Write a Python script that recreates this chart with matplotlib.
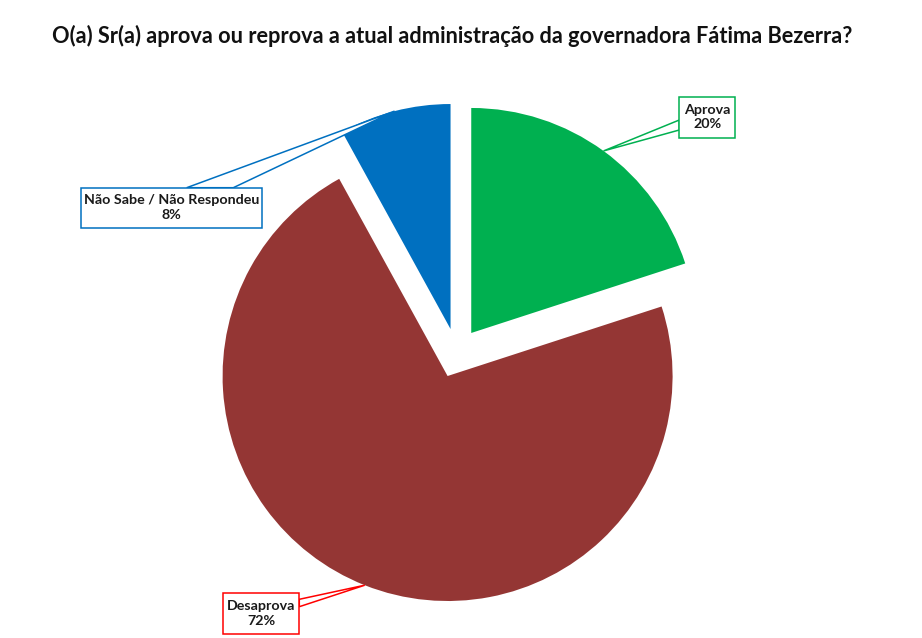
import numpy as np
import matplotlib
matplotlib.use("Agg")
import matplotlib.pyplot as plt
from matplotlib.patches import Polygon, Rectangle

# ---- data ----
categories = ["Aprova", "Desaprova", "Não Sabe / Não Respondeu"]
values = [20, 72, 8]
colors = ["#00B050", "#943634", "#0070C0"]
edge_colors = ["#00B050", "#FF0000", "#0070C0"]
title = "O(a) Sr(a) aprova ou reprova a atual administração da governadora Fátima Bezerra?"

W, H = 922, 638
fig = plt.figure(figsize=(W / 100, H / 100), dpi=100)
ax = fig.add_axes([0, 0, 1, 1])

def py(y):
    return H - y

center = (456.7, py(353.0))
radius = 225
explode_frac = 0.11
wedges, _ = ax.pie(values, colors=colors, startangle=90, counterclock=False,
                   explode=[explode_frac * radius] * len(values), radius=radius,
                   center=center, wedgeprops=dict(linewidth=0), frame=True)
ax.set_xlim(0, W)
ax.set_ylim(0, H)
ax.set_aspect("equal")
ax.axis("off")

# label boxes (pixel coords: x0, y0, x1, y1) and leader base points
boxes = [(679.3, 96.7, 735.0, 137.7),
         (222.7, 593.3, 299.3, 634.0),
         (80.7, 187.7, 261.7, 227.7)]
bases = [((679.3, 120.0), (679.3, 130.0)),
         ((299.3, 599.3), (299.3, 606.7)),
         ((186.7, 187.7), (233.3, 187.7))]

lab_font = ["Lato", "DejaVu Sans"]
for w, cat, val, ec, box, base in zip(wedges, categories, values, edge_colors, boxes, bases):
    mid = np.deg2rad((w.theta1 + w.theta2) / 2)
    ax_pt = (w.center[0] + w.r * np.cos(mid), w.center[1] + w.r * np.sin(mid))
    tri = Polygon([(base[0][0], py(base[0][1])), ax_pt, (base[1][0], py(base[1][1]))],
                  closed=True, facecolor="white", edgecolor=ec, linewidth=1.1, zorder=5)
    ax.add_patch(tri)
    x0, y0, x1, y1 = box
    rect = Rectangle((x0, py(y1)), x1 - x0, y1 - y0, facecolor="white",
                     edgecolor=ec, linewidth=1.1, zorder=6)
    ax.add_patch(rect)
    ax.text((x0 + x1) / 2, py((y0 + y1) / 2), f"{cat}\n{val}%", ha="center", va="center",
            fontsize=10.3, fontweight="bold", family=lab_font, color="#1a1a1a",
            linespacing=1.25, zorder=7)

t = fig.text(452, py(36), title, ha="center", va="center", fontsize=18,
             fontweight="bold", family=["Lato", "DejaVu Sans"], color="#111111",
             transform=None)
fig.canvas.draw()
bb = t.get_window_extent()
t.set_fontsize(18 * 802 / bb.width)

fig.savefig("out.png", dpi=100, facecolor="white")
